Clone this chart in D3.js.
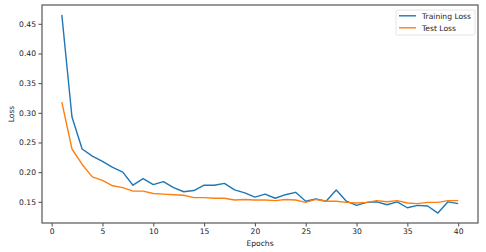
<!DOCTYPE html>
<html>
<head>
<meta charset="utf-8">
<script src="https://cdn.jsdelivr.net/npm/d3@7"></script>
<style>
  body { margin: 0; background: #fff; }
  text { font-family: "DejaVu Sans", sans-serif; fill: #222; }
</style>
</head>
<body>
<div id="chart"></div>
<script>
// training vs test loss per epoch
let epochs = d3.range(1, 41)
let trainLoss = [0.465, 0.293, 0.239, 0.227, 0.218, 0.208, 0.200, 0.178, 0.189, 0.179,
                 0.184, 0.174, 0.167, 0.169, 0.178, 0.178, 0.181, 0.170, 0.165, 0.158,
                 0.163, 0.156, 0.162, 0.166, 0.151, 0.155, 0.151, 0.170, 0.151, 0.144,
                 0.149, 0.150, 0.145, 0.150, 0.140, 0.144, 0.143, 0.131, 0.150, 0.147]
let testLoss = [0.318, 0.239, 0.213, 0.192, 0.186, 0.177, 0.174, 0.168, 0.168, 0.164,
                0.163, 0.162, 0.161, 0.157, 0.157, 0.156, 0.156, 0.153, 0.154, 0.153,
                0.153, 0.152, 0.154, 0.153, 0.149, 0.154, 0.151, 0.151, 0.149, 0.148,
                0.149, 0.152, 0.150, 0.152, 0.148, 0.147, 0.149, 0.149, 0.152, 0.152]
let xTicks = [0, 5, 10, 15, 20, 25, 30, 35, 40]
let yTicks = [0.15, 0.20, 0.25, 0.30, 0.35, 0.40, 0.45]
let seriesNames = ['Training Loss', 'Test Loss']
let seriesColors = ['#1f77b4', '#ff7f0e']

let width = 486, height = 252
let margin = {left: 42, right: 8, top: 5, bottom: 29}

let svg = d3.select('#chart').append('svg')
    .attr('width', width)
    .attr('height', height)

// matplotlib style 5% padding on both axes
let allVals = trainLoss.concat(testLoss)
let yMin = d3.min(allVals), yMax = d3.max(allVals)
let yPad = (yMax - yMin) * 0.05
let xPad = (40 - 1) * 0.05

let x = d3.scaleLinear().domain([1 - xPad, 40 + xPad]).range([margin.left, width - margin.right])
let y = d3.scaleLinear().domain([yMin - yPad, yMax + yPad]).range([height - margin.bottom, margin.top])

let xAxis = svg.append('g')
    .attr('transform', `translate(0,${height - margin.bottom})`)
    .call(d3.axisBottom(x).tickValues(xTicks).tickSize(3.5).tickPadding(2.5).tickFormat(d3.format('d')))
let yAxis = svg.append('g')
    .attr('transform', `translate(${margin.left},0)`)
    .call(d3.axisLeft(y).tickValues(yTicks).tickSize(3.5).tickPadding(2.5).tickFormat(d3.format('.2f')))

for (let ax of [xAxis, yAxis]) {
    ax.select('.domain').remove()
    ax.selectAll('.tick line').attr('stroke', '#333').attr('stroke-width', 0.9)
    ax.selectAll('.tick text').style('font-size', '7.6px').attr('fill', '#222')
}

// frame
svg.append('rect')
    .attr('x', margin.left)
    .attr('y', margin.top)
    .attr('width', width - margin.left - margin.right)
    .attr('height', height - margin.top - margin.bottom)
    .attr('fill', 'none')
    .attr('stroke', '#555')
    .attr('stroke-width', 1.2)

let line = d3.line().x((d, i) => x(epochs[i])).y(d => y(d))

;[trainLoss, testLoss].forEach((vals, k) => {
    svg.append('path')
        .datum(vals)
        .attr('d', line)
        .attr('fill', 'none')
        .attr('stroke', seriesColors[k])
        .attr('stroke-width', 1.4)
        .attr('stroke-linejoin', 'round')
})

// axis labels
svg.append('text')
    .attr('x', (margin.left + width - margin.right) / 2)
    .attr('y', 246)
    .attr('text-anchor', 'middle')
    .style('font-size', '7.6px')
    .text('Epochs')
svg.append('text')
    .attr('transform', `translate(14,${(margin.top + height - margin.bottom) / 2}) rotate(-90)`)
    .attr('text-anchor', 'middle')
    .style('font-size', '7.6px')
    .text('Loss')

// legend
let lg = svg.append('g').attr('transform', 'translate(396,10)')
lg.append('rect')
    .attr('width', 79).attr('height', 25).attr('rx', 1.5)
    .attr('fill', '#fff').attr('stroke', '#ddd').attr('stroke-width', 0.8)
seriesNames.forEach((name, k) => {
    let yy = 5.8 + k * 12
    lg.append('line')
        .attr('x1', 3).attr('x2', 20).attr('y1', yy).attr('y2', yy)
        .attr('stroke', seriesColors[k]).attr('stroke-width', 1.4)
    lg.append('text')
        .attr('x', 26).attr('y', yy + 2.7)
        .style('font-size', '7.6px')
        .text(name)
})
</script>
